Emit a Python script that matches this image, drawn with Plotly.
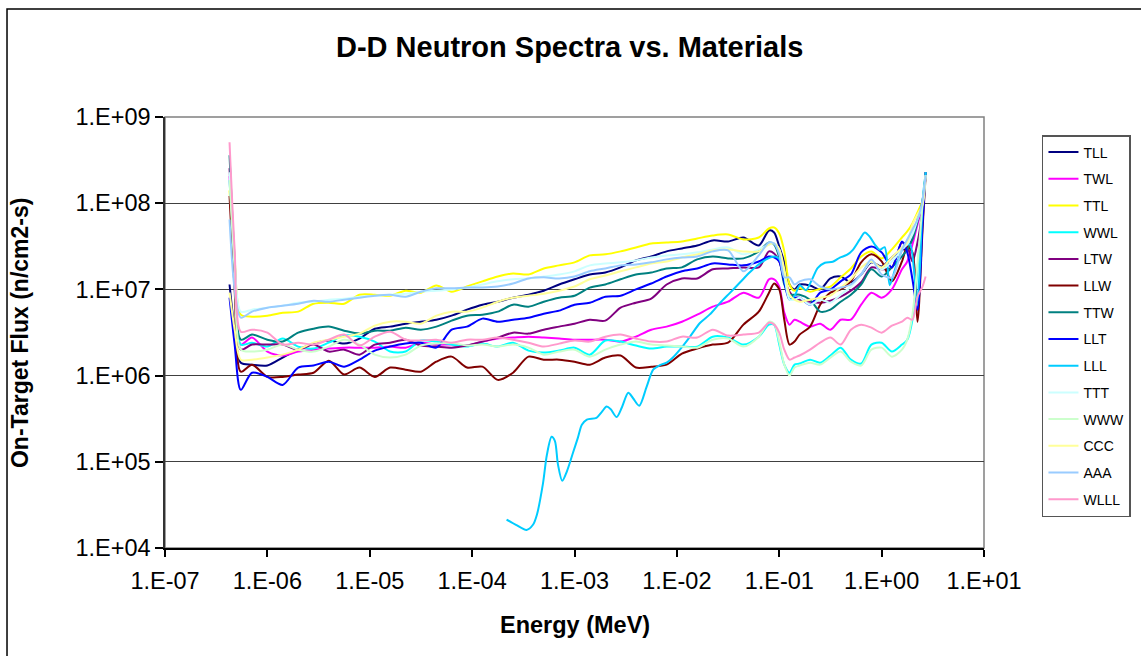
import plotly.graph_objects as go

# Energy grid (MeV) shared by most spectra
ENERGY = [4.27e-7, 4.79e-7, 5.50e-7, 7.08e-7, 1.00e-6, 1.41e-6, 2.00e-6, 2.82e-6, 3.98e-6, 5.62e-6,
          7.94e-6, 1.12e-5, 1.58e-5, 2.24e-5, 3.16e-5, 4.47e-5, 6.31e-5, 8.91e-5, 1.26e-4, 1.78e-4,
          2.51e-4, 3.55e-4, 5.01e-4, 7.08e-4, 1.00e-3, 1.41e-3, 2.00e-3, 2.82e-3, 3.98e-3, 5.62e-3,
          7.94e-3, 1.12e-2, 1.58e-2, 2.24e-2, 3.16e-2, 4.47e-2, 6.31e-2, 7.94e-2, 8.91e-2, 0.100,
          0.112, 0.126, 0.141, 0.158, 0.200, 0.251, 0.316, 0.398, 0.501, 0.631,
          0.794, 1.00, 1.26, 1.58, 1.78, 2.00, 2.24, 2.51, 2.69]

# On-target flux (n/cm2-s) per material configuration
TLL = [1.14e7, 3.41e6, 1.41e6, 1.34e6, 1.31e6, 1.62e6, 2.00e6, 2.35e6, 2.55e6, 2.35e6,
       2.69e6, 3.50e6, 3.70e6, 4.00e6, 4.22e6, 4.45e6, 4.96e6, 5.82e6, 6.65e6, 7.20e6,
       8.01e6, 8.68e6, 9.66e6, 1.14e7, 1.31e7, 1.49e7, 1.57e7, 1.80e7, 2.17e7, 2.41e7,
       2.76e7, 2.99e7, 3.23e7, 3.70e7, 3.60e7, 4.00e7, 3.23e7, 4.83e7, 4.58e7, 3.15e7,
       2.06e7, 1.14e7, 1.00e7, 1.14e7, 1.11e7, 1.00e7, 1.34e7, 1.41e7, 1.21e7, 1.49e7,
       2.06e7, 1.85e7, 2.35e7, 2.91e7, 2.91e7, 4.00e7, 6.47e7, 9.66e7, 2.29e8]
TWL = [2.06e8, 1.31e7, 2.29e6, 2.76e6, 1.90e6, 1.71e6, 1.90e6, 2.00e6, 2.06e6, 2.11e6,
       2.11e6, 2.11e6, 2.17e6, 2.11e6, 2.41e6, 2.29e6, 2.29e6, 2.23e6, 2.48e6, 2.69e6,
       2.76e6, 2.83e6, 2.76e6, 2.69e6, 2.61e6, 2.61e6, 2.61e6, 2.48e6, 2.83e6, 3.41e6,
       3.70e6, 4.22e6, 5.09e6, 6.30e6, 7.20e6, 9.16e6, 8.01e6, 1.31e7, 1.31e7, 1.08e7,
       5.37e6, 3.90e6, 4.45e6, 4.22e6, 3.70e6, 4.00e6, 3.41e6, 4.45e6, 4.45e6, 6.65e6,
       9.16e6, 8.01e6, 1.00e7, 1.71e7, 2.11e7, 3.32e7, 5.67e7, 9.66e7, 2.11e8]
TTL = [1.41e8, 2.23e7, 5.09e6, 4.83e6, 4.96e6, 5.37e6, 5.52e6, 6.83e6, 7.01e6, 6.83e6,
       8.68e6, 8.68e6, 8.45e6, 9.66e6, 9.16e6, 1.11e7, 9.41e6, 1.08e7, 1.24e7, 1.41e7,
       1.53e7, 1.49e7, 1.75e7, 1.90e7, 2.06e7, 2.48e7, 2.55e7, 2.76e7, 3.07e7, 3.41e7,
       3.50e7, 3.60e7, 3.90e7, 4.22e7, 4.34e7, 3.80e7, 4.00e7, 5.09e7, 5.23e7, 4.45e7,
       2.76e7, 1.14e7, 9.66e6, 1.04e7, 9.41e6, 1.02e7, 1.08e7, 1.38e7, 1.75e7, 2.41e7,
       2.76e7, 2.29e7, 2.91e7, 4.00e7, 4.70e7, 5.82e7, 7.80e7, 1.08e8, 2.29e8]
WWL = [1.85e8, 1.71e7, 2.29e6, 2.41e6, 2.17e6, 2.69e6, 2.17e6, 2.06e6, 2.41e6, 2.91e6,
       2.83e6, 2.48e6, 1.90e6, 1.90e6, 2.55e6, 2.48e6, 2.29e6, 2.17e6, 2.35e6, 2.17e6,
       2.41e6, 1.95e6, 1.85e6, 1.95e6, 2.11e6, 1.75e6, 2.55e6, 2.48e6, 2.23e6, 2.06e6,
       2.17e6, 2.17e6, 2.17e6, 2.83e6, 2.76e6, 2.29e6, 2.83e6, 3.90e6, 3.90e6, 2.29e6,
       1.34e6, 1.08e6, 1.34e6, 1.38e6, 1.53e6, 1.41e6, 1.71e6, 2.11e6, 1.53e6, 1.38e6,
       2.29e6, 2.41e6, 1.90e6, 2.29e6, 2.61e6, 4.45e6, 1.71e7, 8.45e7, 2.11e8]
LTW = [2.55e8, 1.71e7, 2.00e6, 2.29e6, 2.29e6, 2.29e6, 2.00e6, 2.29e6, 1.90e6, 2.00e6,
       1.75e6, 2.29e6, 2.41e6, 2.61e6, 2.23e6, 2.17e6, 2.11e6, 2.23e6, 2.48e6, 2.76e6,
       3.15e6, 3.07e6, 3.41e6, 3.70e6, 4.00e6, 4.45e6, 4.34e6, 6.14e6, 7.01e6, 7.80e6,
       1.14e7, 1.34e7, 1.34e7, 1.71e7, 1.75e7, 1.80e7, 1.80e7, 2.76e7, 2.61e7, 2.11e7,
       1.31e7, 9.41e6, 8.01e6, 7.60e6, 7.20e6, 7.01e6, 7.40e6, 8.23e6, 9.66e6, 1.21e7,
       1.80e7, 1.71e7, 1.80e7, 3.50e7, 3.15e7, 2.11e7, 3.50e7, 8.45e7, 2.11e8]
LLW = [1.21e8, 1.00e7, 1.11e6, 1.34e6, 9.66e5, 9.66e5, 1.03e6, 1.08e6, 1.49e6, 1.03e6,
       1.24e6, 9.66e5, 1.24e6, 1.17e6, 1.11e6, 1.45e6, 1.66e6, 1.24e6, 1.27e6, 8.92e5,
       1.08e6, 1.66e6, 1.53e6, 1.53e6, 1.45e6, 1.34e6, 1.62e6, 1.71e6, 1.24e6, 1.27e6,
       1.34e6, 1.80e6, 2.06e6, 2.29e6, 2.41e6, 3.90e6, 5.52e6, 9.16e6, 1.17e7, 1.00e7,
       4.45e6, 2.29e6, 2.48e6, 2.99e6, 3.70e6, 6.65e6, 9.16e6, 1.00e7, 1.24e7, 2.06e7,
       2.55e7, 2.11e7, 1.24e7, 2.11e7, 3.15e7, 2.69e7, 4.22e6, 4.96e7, 2.11e8]
TTW = [3.60e8, 2.23e7, 2.61e6, 2.99e6, 2.61e6, 2.48e6, 3.15e6, 3.50e6, 3.70e6, 3.32e6,
       3.07e6, 3.32e6, 3.32e6, 3.60e6, 3.41e6, 3.70e6, 4.34e6, 4.96e6, 5.09e6, 5.52e6,
       6.65e6, 6.30e6, 7.20e6, 8.01e6, 8.45e6, 1.05e7, 1.14e7, 1.31e7, 1.49e7, 1.57e7,
       1.75e7, 1.80e7, 2.23e7, 2.41e7, 2.29e7, 2.29e7, 2.76e7, 3.50e7, 3.32e7, 2.35e7,
       1.14e7, 8.68e6, 8.68e6, 8.68e6, 7.60e6, 5.52e6, 5.82e6, 7.20e6, 8.68e6, 1.14e7,
       1.71e7, 1.41e7, 1.80e7, 2.41e7, 2.91e7, 3.80e7, 6.14e7, 1.08e8, 2.11e8]
LLT = [8.01e6, 2.29e6, 6.83e5, 1.08e6, 9.66e5, 7.80e5, 1.24e6, 1.31e6, 1.45e6, 1.27e6,
       1.53e6, 1.95e6, 2.17e6, 2.35e6, 2.41e6, 2.11e6, 3.41e6, 3.70e6, 4.58e6, 4.22e6,
       4.45e6, 4.70e6, 5.23e6, 5.67e6, 6.65e6, 7.01e6, 8.23e6, 8.45e6, 1.00e7, 1.17e7,
       1.41e7, 1.62e7, 1.75e7, 2.00e7, 1.95e7, 1.90e7, 2.11e7, 2.41e7, 2.35e7, 2.11e7,
       1.21e7, 7.60e6, 8.01e6, 8.01e6, 6.65e6, 9.16e6, 1.00e7, 1.24e7, 1.49e7, 2.69e7,
       3.15e7, 2.69e7, 1.80e7, 3.60e7, 2.69e7, 1.31e7, 5.82e6, 5.67e7, 2.29e8]
TTT = [2.29e8, 2.23e7, 5.52e6, 5.82e6, 6.14e6, 6.47e6, 7.01e6, 7.20e6, 7.60e6, 7.80e6,
       8.23e6, 8.45e6, 8.68e6, 8.92e6, 9.41e6, 9.66e6, 1.00e7, 1.05e7, 1.14e7, 1.24e7,
       1.31e7, 1.34e7, 1.41e7, 1.49e7, 1.62e7, 1.90e7, 2.00e7, 2.06e7, 2.17e7, 2.35e7,
       2.48e7, 2.55e7, 2.69e7, 2.91e7, 3.07e7, 2.55e7, 2.91e7, 3.32e7, 3.41e7, 2.91e7,
       1.49e7, 7.60e6, 7.60e6, 8.01e6, 6.65e6, 7.60e6, 7.01e6, 8.68e6, 1.08e7, 1.49e7,
       2.11e7, 1.71e7, 2.11e7, 2.91e7, 3.32e7, 4.34e7, 6.47e7, 9.66e7, 2.11e8]
WWW = [1.85e8, 1.71e7, 2.00e6, 1.90e6, 2.00e6, 2.29e6, 2.00e6, 1.90e6, 2.17e6, 2.61e6,
       2.29e6, 1.75e6, 1.62e6, 1.75e6, 2.23e6, 2.35e6, 2.41e6, 2.23e6, 2.29e6, 2.17e6,
       2.29e6, 2.11e6, 1.75e6, 1.90e6, 2.00e6, 1.66e6, 2.00e6, 2.29e6, 2.48e6, 2.29e6,
       2.23e6, 2.17e6, 2.11e6, 2.61e6, 2.69e6, 2.17e6, 2.83e6, 4.22e6, 4.00e6, 2.48e6,
       1.34e6, 1.00e6, 1.24e6, 1.31e6, 1.41e6, 1.34e6, 1.62e6, 1.90e6, 1.45e6, 1.31e6,
       2.00e6, 2.11e6, 1.66e6, 2.00e6, 2.61e6, 5.09e6, 1.95e7, 9.66e7, 2.11e8]
CCC = [9.16e6, 3.41e6, 1.53e6, 1.53e6, 1.62e6, 1.75e6, 2.00e6, 2.41e6, 2.61e6, 2.83e6,
       3.07e6, 3.80e6, 4.22e6, 4.22e6, 4.00e6, 4.96e6, 5.52e6, 5.52e6, 6.14e6, 7.20e6,
       8.01e6, 8.45e6, 8.92e6, 9.66e6, 1.08e7, 1.31e7, 1.45e7, 1.62e7, 1.80e7, 2.00e7,
       2.11e7, 2.35e7, 2.55e7, 2.83e7, 2.91e7, 2.76e7, 2.76e7, 3.32e7, 3.41e7, 2.91e7,
       1.71e7, 8.68e6, 7.60e6, 7.20e6, 7.60e6, 8.01e6, 8.45e6, 1.05e7, 1.31e7, 1.80e7,
       2.11e7, 1.80e7, 2.35e7, 3.07e7, 3.50e7, 5.67e7, 7.40e7, 9.66e7, 2.11e8]
AAA = [6.47e7, 1.00e7, 4.70e6, 5.52e6, 6.14e6, 6.47e6, 6.83e6, 7.40e6, 7.20e6, 7.60e6,
       8.01e6, 8.45e6, 8.68e6, 8.23e6, 9.41e6, 1.03e7, 1.03e7, 1.05e7, 1.05e7, 1.08e7,
       1.17e7, 1.34e7, 1.38e7, 1.34e7, 1.41e7, 1.62e7, 1.75e7, 1.90e7, 1.95e7, 2.06e7,
       2.23e7, 2.35e7, 2.41e7, 2.76e7, 2.83e7, 1.62e7, 2.48e7, 3.50e7, 3.41e7, 2.55e7,
       1.38e7, 1.38e7, 1.14e7, 1.24e7, 1.31e7, 1.08e7, 1.00e7, 1.05e7, 1.14e7, 1.49e7,
       2.23e7, 1.49e7, 1.38e7, 2.91e7, 3.80e7, 4.96e7, 6.47e7, 1.08e8, 2.11e8]
WLLL = [5.09e8, 2.91e7, 3.23e6, 3.41e6, 3.15e6, 2.29e6, 2.41e6, 2.29e6, 2.61e6, 2.99e6,
        2.23e6, 2.83e6, 3.23e6, 2.61e6, 2.55e6, 2.61e6, 2.41e6, 2.61e6, 2.61e6, 2.76e6,
        2.61e6, 2.41e6, 2.17e6, 2.35e6, 2.55e6, 2.48e6, 2.83e6, 2.99e6, 2.69e6, 2.48e6,
        2.48e6, 2.83e6, 2.76e6, 3.41e6, 2.91e6, 2.99e6, 3.15e6, 4.11e6, 3.90e6, 3.15e6,
        2.00e6, 1.53e6, 1.62e6, 1.71e6, 2.00e6, 2.41e6, 2.76e6, 2.29e6, 3.41e6, 3.90e6,
        3.60e6, 3.15e6, 3.80e6, 4.22e6, 4.70e6, 4.45e6, 8.23e6, 1.08e7, 1.41e7]

# LLL has its own energy points (no flux recorded below ~2e-4 MeV)
LLL_ENERGY = [2.17e-4, 2.68e-4, 3.40e-4, 3.93e-4, 4.30e-4, 4.91e-4, 5.37e-4, 5.97e-4, 6.44e-4, 6.89e-4,
              7.59e-4, 8.43e-4, 9.70e-4, 1.08e-3, 1.18e-3, 1.32e-3, 1.64e-3, 1.85e-3, 2.06e-3, 2.26e-3,
              2.58e-3, 2.90e-3, 3.35e-3, 3.72e-3, 4.29e-3, 5.06e-3, 5.87e-3, 6.82e-3, 7.94e-3, 9.14e-3,
              1.07e-2, 1.34e-2, 1.68e-2, 2.10e-2, 2.63e-2, 3.30e-2, 4.13e-2, 5.16e-2, 6.47e-2, 8.11e-2,
              9.27e-2, 0.104, 0.116, 0.127, 0.142, 0.159, 0.182, 0.208, 0.238, 0.279,
              0.333, 0.391, 0.457, 0.524, 0.612, 0.685, 0.767, 0.859, 0.959, 1.07,
              1.20, 1.35, 1.51, 1.69, 1.89, 2.07, 2.21, 2.36, 2.52, 2.70]
LLL_FLUX = [2.14e4, 1.86e4, 1.62e4, 1.86e4, 2.45e4, 5.50e4, 1.20e5, 1.95e5, 1.74e5, 9.33e4,
            6.03e4, 7.76e4, 1.29e5, 1.91e5, 2.69e5, 3.09e5, 3.24e5, 3.80e5, 4.37e5, 4.07e5,
            3.31e5, 4.27e5, 6.31e5, 5.50e5, 4.47e5, 7.41e5, 1.17e6, 1.32e6, 1.41e6, 1.62e6,
            2.00e6, 2.82e6, 4.07e6, 5.13e6, 6.92e6, 9.12e6, 1.20e7, 1.58e7, 2.00e7, 2.34e7,
            2.40e7, 2.09e7, 1.12e7, 7.59e6, 8.51e6, 1.12e7, 9.77e6, 1.29e7, 1.78e7, 2.04e7,
            2.09e7, 2.34e7, 2.51e7, 2.88e7, 3.80e7, 4.57e7, 4.07e7, 3.31e7, 2.88e7, 3.09e7,
            1.12e7, 1.70e7, 2.51e7, 3.31e7, 3.31e7, 1.70e7, 6.61e6, 1.70e7, 1.10e8, 2.29e8]

SERIES_NAMES = ["TLL", "TWL", "TTL", "WWL", "LTW", "LLW", "TTW", "LLT", "LLL",
                "TTT", "WWW", "CCC", "AAA", "WLLL"]
SERIES_COLORS = ["#000080", "#FF00FF", "#FFFF00", "#00FFFF", "#800080", "#800000", "#008080",
                 "#0000FF", "#00CCFF", "#CCFFFF", "#CCFFCC", "#FFFF99", "#99CCFF", "#FF99CC"]

X_TICK_VALUES = [1e-7, 1e-6, 1e-5, 1e-4, 1e-3, 1e-2, 1e-1, 1e0, 1e1]
X_TICK_LABELS = ["1.E-07", "1.E-06", "1.E-05", "1.E-04", "1.E-03", "1.E-02", "1.E-01", "1.E+00", "1.E+01"]
Y_TICK_VALUES = [1e4, 1e5, 1e6, 1e7, 1e8, 1e9]
Y_TICK_LABELS = ["1.E+04", "1.E+05", "1.E+06", "1.E+07", "1.E+08", "1.E+09"]

series_data = {
    "TLL": (ENERGY, TLL), "TWL": (ENERGY, TWL), "TTL": (ENERGY, TTL), "WWL": (ENERGY, WWL),
    "LTW": (ENERGY, LTW), "LLW": (ENERGY, LLW), "TTW": (ENERGY, TTW), "LLT": (ENERGY, LLT),
    "LLL": (LLL_ENERGY, LLL_FLUX), "TTT": (ENERGY, TTT), "WWW": (ENERGY, WWW),
    "CCC": (ENERGY, CCC), "AAA": (ENERGY, AAA), "WLLL": (ENERGY, WLLL),
}

FONT = "Liberation Sans, Arial, sans-serif"

fig = go.Figure()
for name, color in zip(SERIES_NAMES, SERIES_COLORS):
    xs, ys = series_data[name]
    fig.add_trace(go.Scatter(
        x=xs, y=ys, name=name, mode="lines", legendgroup=name,
        line=dict(color=color, width=2, shape="spline", smoothing=0.8),
    ))

# plot area outline (gray) beneath the black axis lines
fig.add_shape(type="rect", xref="paper", yref="paper", x0=0, y0=0, x1=1, y1=1,
              line=dict(color="#808080", width=1.5), layer="below")
# outer chart frame
fig.add_shape(type="rect", xref="paper", yref="paper", x0=-0.1929, y0=-0.28, x1=1.22, y1=1.2506,
              line=dict(color="#000000", width=1.5), layer="below")

fig.update_layout(
    width=1141, height=656,
    margin=dict(l=165, r=157, t=117, b=108),
    paper_bgcolor="white", plot_bgcolor="white",
    font=dict(family=FONT, color="#000000"),
    showlegend=True,
    legend=dict(
        xref="container", yref="container", x=0.9132, y=0.7942,
        xanchor="left", yanchor="top",
        bordercolor="#555555", borderwidth=1.5, bgcolor="white",
        font=dict(family=FONT, size=14, color="#000000"),
        tracegroupgap=5.5, traceorder="grouped", maxheight=500,
    ),
    annotations=[
        dict(text="<b>D-D Neutron Spectra vs. Materials</b>", xref="paper", yref="paper",
             x=0.4945, y=1.1624, xanchor="center", yanchor="middle", showarrow=False,
             font=dict(family=FONT, size=29, color="#000000")),
        dict(text="<b>Energy (MeV)</b>", xref="paper", yref="paper",
             x=0.5006, y=-0.1787, xanchor="center", yanchor="middle", showarrow=False,
             font=dict(family=FONT, size=23.5, color="#000000")),
        dict(text="<b>On-Target Flux (n/cm2-s)</b>", xref="paper", yref="paper",
             x=-0.177, y=0.4988, xanchor="center", yanchor="middle", showarrow=False,
             textangle=-90, font=dict(family=FONT, size=23, color="#000000")),
    ],
)

fig.update_xaxes(
    type="log", range=[-7, 1],
    tickvals=X_TICK_VALUES, ticktext=X_TICK_LABELS,
    tickfont=dict(family=FONT, size=23.5, color="#000000"),
    ticks="outside", ticklen=7, tickcolor="#000000", tickwidth=1.5,
    ticklabelstandoff=4,
    showline=True, linecolor="#000000", linewidth=1.5,
    showgrid=False, zeroline=False,
)
fig.update_yaxes(
    type="log", range=[4, 9],
    tickvals=Y_TICK_VALUES, ticktext=Y_TICK_LABELS,
    tickfont=dict(family=FONT, size=23.5, color="#000000"),
    ticks="outside", ticklen=8, tickcolor="#000000", tickwidth=1.5,
    showline=True, linecolor="#333333", linewidth=1.5,
    showgrid=True, gridcolor="#404040", gridwidth=1.2,
    zeroline=False,
)

fig.write_html("out.html")
